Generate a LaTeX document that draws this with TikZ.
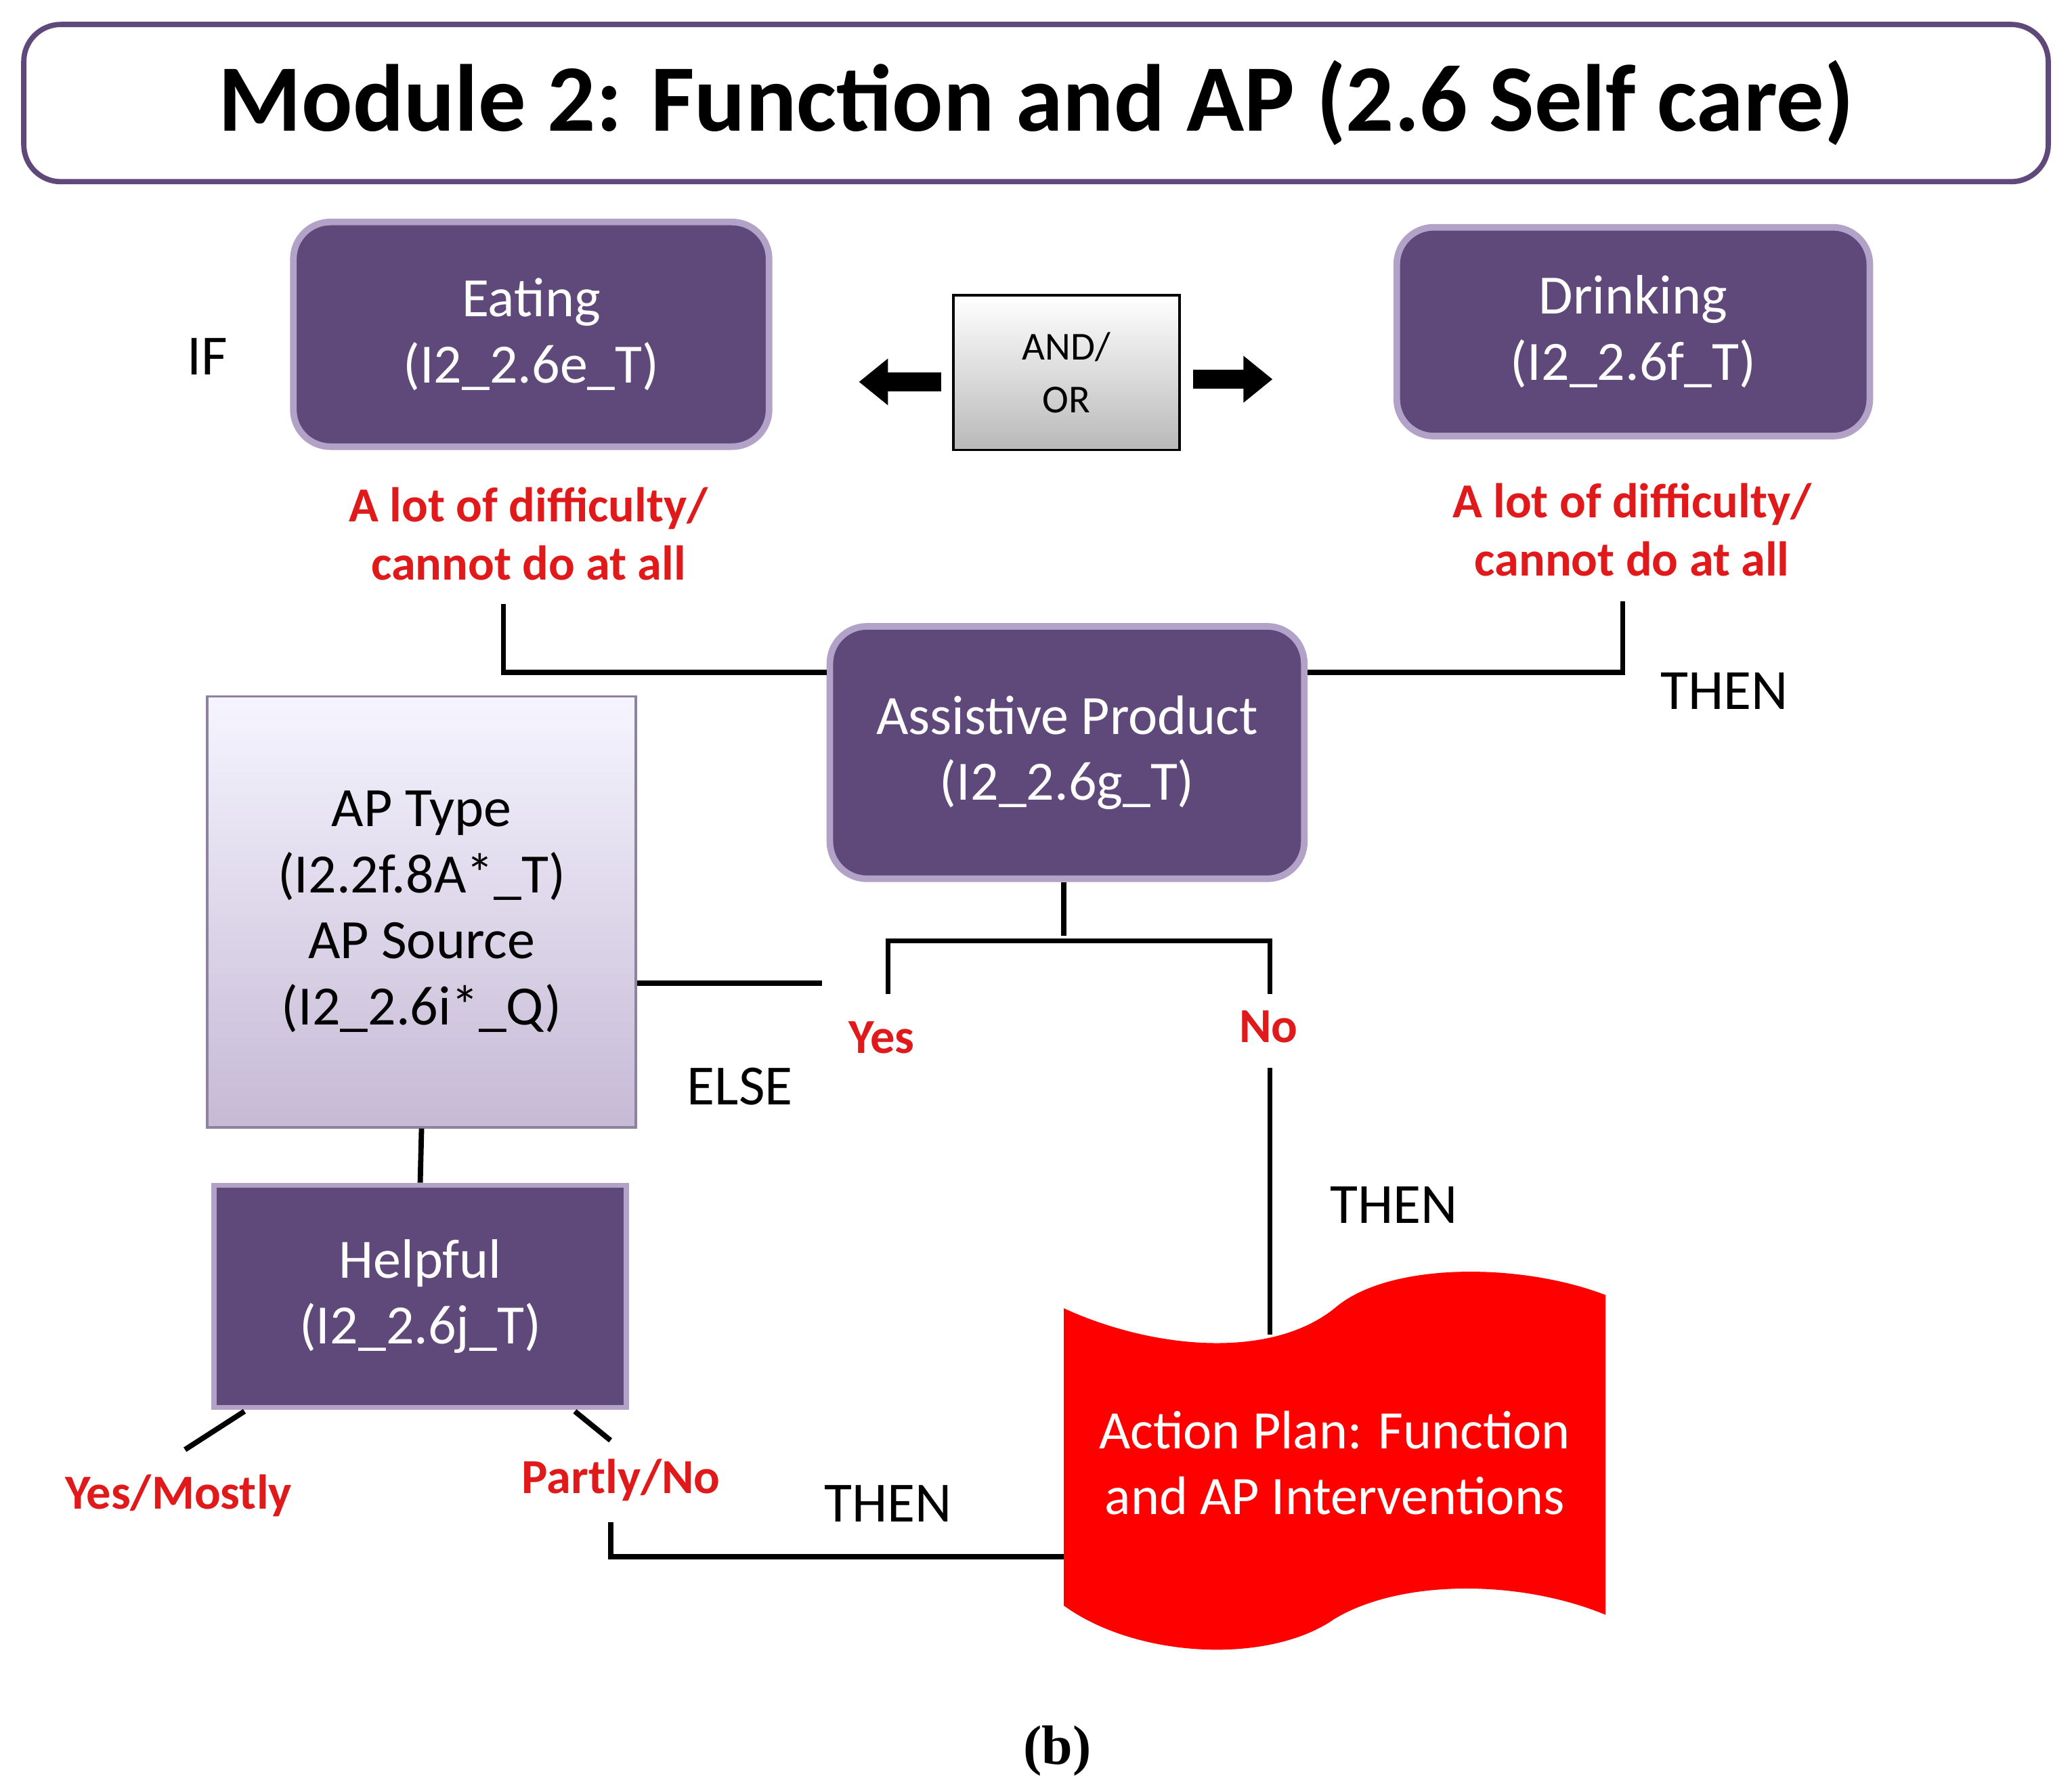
\documentclass[tikz,border=0pt]{standalone}
\usepackage{fontspec}
\setmainfont{Carlito}
\newfontfamily\bser{Liberation Serif}
\usetikzlibrary{arrows.meta}
\definecolor{dpur}{HTML}{5F497A}
\definecolor{lpur}{HTML}{B3A2C7}
\definecolor{rtxt}{HTML}{E0191B}
\definecolor{apred}{HTML}{FF0000}
\begin{document}
\begin{tikzpicture}[x=0.5pt,y=-0.5pt,
 pbox/.style={draw=lpur,line width=2.5pt,fill=dpur,rounded corners=14pt,text=white,font=\fontsize{21}{25}\selectfont,align=center,inner sep=0pt},
 sbox/.style={draw=lpur,line width=2pt,fill=dpur,text=white,font=\fontsize{21}{25}\selectfont,align=center,inner sep=0pt},
 redtxt/.style={text=rtxt,font=\bfseries\fontsize{18.5}{22}\selectfont,align=center},
 lbl/.style={font=\fontsize{21.5}{24}\selectfont},
 ln/.style={line width=2pt}]
\useasboundingbox (0,0) rectangle (1568,1355);
\node[draw=dpur,line width=2pt,rounded corners=14pt,minimum width=766pt,minimum height=59.5pt,font=\bfseries\fontsize{36}{40}\selectfont] (title) at (784,78) {Module 2: Function and AP (2.6 Self care)};
\node[pbox,minimum width=180pt,minimum height=85pt] (eat) at (402,253) {Eating\\(I2\_2.6e\_T)};
\node[lbl] (if) at (157,270) {IF};
\node[draw=black,line width=1pt,top color=white,bottom color=gray!55,minimum width=85.5pt,minimum height=58.5pt,align=center,font=\fontsize{15}{20}\selectfont] (andor) at (807,282) {AND/\\OR};
\coordinate (la) at (712,289); \coordinate (lb) at (650,289);
\coordinate (ra) at (903,287); \coordinate (rb) at (963,287);
\draw[line width=7pt,-{Triangle[length=11pt,width=17pt]}] (la) -- (lb);
\draw[line width=7pt,-{Triangle[length=11pt,width=17pt]}] (ra) -- (rb);
\node[pbox,minimum width=179pt,minimum height=79pt] (drink) at (1236,251) {Drinking\\(I2\_2.6f\_T)};
\node[redtxt] (r1) at (400,404) {A lot of difficulty/\\cannot do at all};
\node[redtxt] (r2) at (1235,401) {A lot of difficulty/\\cannot do at all};
\node[pbox,minimum width=179.5pt,minimum height=95.5pt] (ap) at (807.5,569.5) {Assistive Product\\(I2\_2.6g\_T)};
\coordinate (c1) at (381,457); \coordinate (c2) at (1228,455);
\draw[ln] (c1) |- (ap.west|-0,509);
\draw[ln] (c2) |- (ap.east|-0,509);
\node[lbl] (then1) at (1305,523) {THEN};
\node[draw=lpur!80!black,line width=1pt,top color=purple!5!blue!4,bottom color=lpur!75,minimum width=162pt,minimum height=163pt,align=center,font=\fontsize{21}{25}\selectfont] (apt) at (319,690) {AP Type\\(I2.2f.8A*\_T)\\AP Source\\(I2\_2.6i*\_Q)};
\coordinate (e1) at (622,744);
\draw[ln] (apt.east|-e1) -- (e1);
\coordinate (s1) at (805,708); \coordinate (y1) at (672,752); \coordinate (n1) at (961,752);
\draw[ln] (ap.south-|s1) -- (s1);
\draw[ln] (y1) |- (s1|-0,712) -| (n1);
\node[redtxt] (yes) at (667,785) {Yes};
\node[redtxt] (no) at (960,777) {No};
\node[lbl] (else) at (560,822) {ELSE};
\coordinate (n2) at (961,808); \coordinate (n3) at (961,1010);
\draw[ln] (n2) -- (n3);
\node[lbl] (then2) at (1055,912) {THEN};
\node[sbox,minimum width=156pt,minimum height=84pt] (help) at (318,981) {Helpful\\(I2\_2.6j\_T)};
\draw[ln] (apt.south) -- (help.north);
\coordinate (h1) at (185,1068); \coordinate (h2) at (140,1097);
\coordinate (h3) at (435,1068); \coordinate (h4) at (462,1090);
\draw[ln] (h1) -- (h2); \draw[ln] (h3) -- (h4);
\node[redtxt] (ym) at (135,1132) {Yes/Mostly};
\node[redtxt] (pn) at (470,1120) {Partly/No};
\node[lbl] (then3) at (672,1138) {THEN};
\fill[apred] (805,990) .. controls (870,1020) and (960,1030) .. (1010,990)
 .. controls (1050,955) and (1150,955) .. (1215,980) -- (1215,1222)
 .. controls (1150,1195) and (1060,1195) .. (1010,1225)
 .. controls (960,1260) and (860,1255) .. (805,1215) -- cycle;
\node[text=white,align=center,font=\fontsize{20.5}{25}\selectfont] (act) at (1010,1107) {Action Plan: Function\\and AP Interventions};
\coordinate (p1) at (462,1152); \coordinate (p2) at (805,1178);
\draw[ln] (p1) |- (p2);
\node[font=\bser\bfseries\fontsize{21}{24}\selectfont] (b) at (800,1325) {(b)};
\end{tikzpicture}
\end{document}
